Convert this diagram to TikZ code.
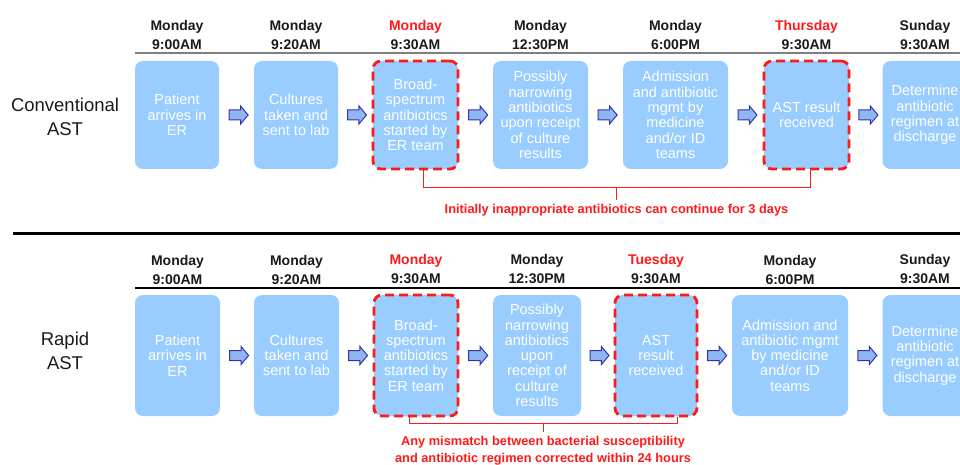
\documentclass[tikz,border=0pt]{standalone}
\usepackage{fontspec}
\setmainfont{Liberation Sans}
\usepackage{xcolor}
\usepackage{tikz}
\usetikzlibrary{shapes.arrows,calc}
\definecolor{boxblue}{HTML}{99CCFF}
\definecolor{arrblue}{HTML}{8FB6F2}
\definecolor{arrline}{HTML}{3434A8}
\definecolor{alertred}{HTML}{FF1A1A}
\definecolor{rulegray}{HTML}{7F7F7F}
\definecolor{ink}{HTML}{1A1A1A}
\tikzset{stepbox/.style={fill=boxblue,rounded corners=8pt,text=white,align=center,inner sep=0pt,
    font=\fontsize{14.5}{15.3}\selectfont},
  hotbox/.style={draw=alertred,line width=2.8pt,dash pattern=on 9pt off 5pt},
  hdr/.style={align=center,inner sep=0pt,text=ink,font=\bfseries\fontsize{14}{19}\selectfont},
  rowlbl/.style={align=center,text=ink,font=\fontsize{18.5}{24}\selectfont},
  blk/.style={single arrow,draw=arrline,fill=arrblue,line width=1pt,minimum height=19pt,
    inner xsep=0pt,inner ysep=4.5pt,single arrow head extend=4pt,single arrow tip angle=100},
  brk/.style={alertred,line width=0.9pt},
  note/.style={alertred,align=center,inner sep=4pt,font=\bfseries\fontsize{12.8}{17}\selectfont}}
\newcommand{\hotday}[1]{\textcolor{alertred}{#1}}

\begin{document}
\begin{tikzpicture}[x=1pt,y=-1pt]
  \useasboundingbox (0,0) rectangle (960,465); \clip (0,0) rectangle (960,465);
  % conventional AST
  \node[rowlbl] (lc) at (65,117) {Conventional\\AST};
  \draw[rulegray,line width=2pt] (135,53) -- (960,53);
  \node[hdr] (hc1) at (177,35) {Monday\\9:00AM};
  \node[hdr] (hc2) at (296,35) {Monday\\9:20AM};
  \node[hdr] (hc3) at (415.5,35) {\hotday{Monday}\\9:30AM};
  \node[hdr] (hc4) at (540.5,35) {Monday\\12:30PM};
  \node[hdr] (hc5) at (675.5,35) {Monday\\6:00PM};
  \node[hdr] (hc6) at (806.5,35) {\hotday{Thursday}\\9:30AM};
  \node[hdr] (hc7) at (925,35) {Sunday\\9:30AM};
  \node[stepbox,minimum width=84pt,minimum height=108pt] (c1) at (177,115) {Patient\\arrives in\\ER};
  \node[stepbox,minimum width=84pt,minimum height=108pt] (c2) at (296,115) {Cultures\\taken and\\sent to lab};
  \node[stepbox,hotbox,minimum width=85pt,minimum height=108pt] (c3) at (415.5,115) {Broad-\\spectrum\\antibiotics\\started by\\ER team};
  \node[stepbox,minimum width=95pt,minimum height=108pt] (c4) at (540.5,115) {Possibly\\narrowing\\antibiotics\\upon receipt\\of culture\\results};
  \node[stepbox,minimum width=105pt,minimum height=108pt] (c5) at (675.5,115) {Admission\\and antibiotic\\mgmt by\\medicine\\and/or ID\\teams};
  \node[stepbox,hotbox,minimum width=85pt,minimum height=108pt] (c6) at (806.5,115) {AST result\\received};
  \node[stepbox,minimum width=85pt,minimum height=108pt] (c7) at (925,115) {Determine\\antibiotic\\regimen at\\discharge};
  \node[blk] (ac1) at ($(c1.east)!.5!(c2.west)$) {}; \node[blk] (ac2) at ($(c2.east)!.5!(c3.west)$) {};
  \node[blk] (ac3) at ($(c3.east)!.5!(c4.west)$) {}; \node[blk] (ac4) at ($(c4.east)!.5!(c5.west)$) {};
  \node[blk] (ac5) at ($(c5.east)!.5!(c6.west)$) {}; \node[blk] (ac6) at ($(c6.east)!.5!(c7.west)$) {};
  \coordinate (cl) at (423,187); \coordinate (cr) at (810,187);
  \draw[brk] (c3.south -| cl) -- (cl) -- (cr) -- (c6.south -| cr);
  \draw[brk] ($(cl)!.5!(cr)$) -- ++(0,13) node[note,below] (nc) {Initially inappropriate antibiotics can continue for 3 days};
  \draw[line width=3pt] (13,233) -- (960,233);
  % rapid AST
  \node[rowlbl] (lr) at (65,351) {Rapid\\AST};
  \draw[line width=1.3pt] (135,288) -- (960,288);
  \node[hdr] (hr1) at (177.5,269.5) {Monday\\9:00AM};
  \node[hdr] (hr2) at (296.5,269.5) {Monday\\9:20AM};
  \node[hdr] (hr3) at (416,269.5) {\hotday{Monday}\\9:30AM};
  \node[hdr] (hr4) at (537,269.5) {Monday\\12:30PM};
  \node[hdr] (hr5) at (656,269.5) {\hotday{Tuesday}\\9:30AM};
  \node[hdr] (hr6) at (790,269.5) {Monday\\6:00PM};
  \node[hdr] (hr7) at (925,269.5) {Sunday\\9:30AM};
  \node[stepbox,minimum width=85pt,minimum height=121pt] (r1) at (177.5,355.5) {Patient\\arrives in\\ER};
  \node[stepbox,minimum width=85pt,minimum height=121pt] (r2) at (296.5,355.5) {Cultures\\taken and\\sent to lab};
  \node[stepbox,hotbox,minimum width=84pt,minimum height=121pt] (r3) at (416,355.5) {Broad-\\spectrum\\antibiotics\\started by\\ER team};
  \node[stepbox,minimum width=88pt,minimum height=121pt] (r4) at (537,355.5) {Possibly\\narrowing\\antibiotics\\upon\\receipt of\\culture\\results};
  \node[stepbox,hotbox,minimum width=82pt,minimum height=121pt] (r5) at (656,355.5) {AST\\result\\received};
  \node[stepbox,minimum width=116pt,minimum height=121pt] (r6) at (790,355.5) {Admission and\\antibiotic mgmt\\by medicine\\and/or ID\\teams};
  \node[stepbox,minimum width=85pt,minimum height=121pt] (r7) at (925,355.5) {Determine\\antibiotic\\regimen at\\discharge};
  \node[blk] (ar1) at ($(r1.east)!.5!(r2.west)$) {}; \node[blk] (ar2) at ($(r2.east)!.5!(r3.west)$) {};
  \node[blk] (ar3) at ($(r3.east)!.5!(r4.west)$) {}; \node[blk] (ar4) at ($(r4.east)!.5!(r5.west)$) {};
  \node[blk] (ar5) at ($(r5.east)!.5!(r6.west)$) {}; \node[blk] (ar6) at ($(r6.east)!.5!(r7.west)$) {};
  \coordinate (rl) at (409,423); \coordinate (rr) at (677,423);
  \draw[brk] (r3.south -| rl) -- (rl) -- (rr) -- (r5.south -| rr);
  \draw[brk] ($(rl)!.5!(rr)$) -- ++(0,9) node[note,below] (nr) {Any mismatch between bacterial susceptibility\\and antibiotic regimen corrected within 24 hours};
\end{tikzpicture}
\end{document}
